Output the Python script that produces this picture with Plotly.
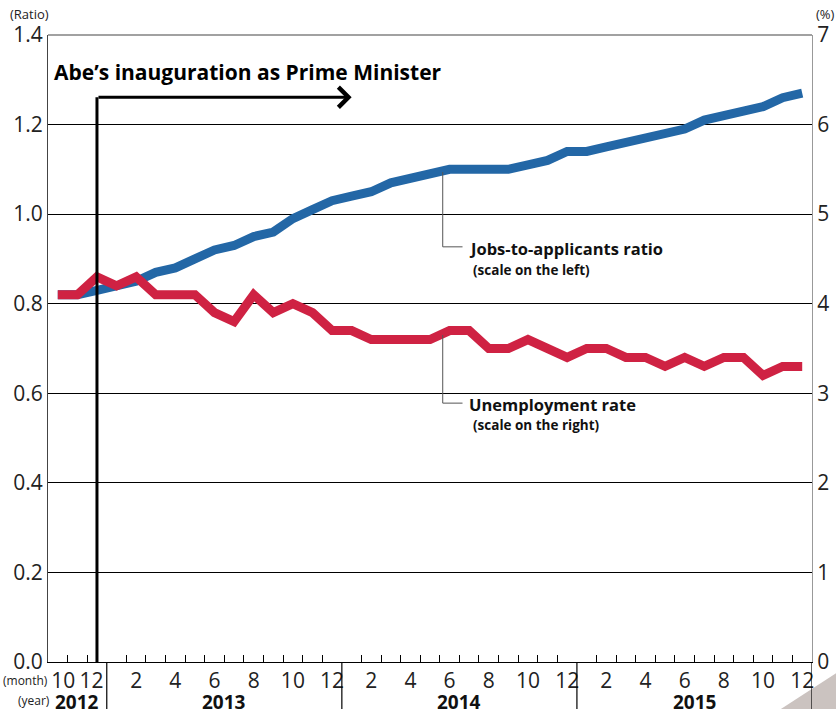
import plotly.graph_objects as go

# Months: Oct 2012 .. Dec 2015 (index 0..38)
month_numbers = [10, 11, 12] + list(range(1, 13)) * 3
jobs_ratio = [0.82, 0.82, 0.83,
              0.84, 0.85, 0.87, 0.88, 0.90, 0.92, 0.93, 0.95, 0.96, 0.99, 1.01, 1.03,
              1.04, 1.05, 1.07, 1.08, 1.09, 1.10, 1.10, 1.10, 1.10, 1.11, 1.12, 1.14,
              1.14, 1.15, 1.16, 1.17, 1.18, 1.19, 1.21, 1.22, 1.23, 1.24, 1.26, 1.27]
unemployment = [4.1, 4.1, 4.3,
                4.2, 4.3, 4.1, 4.1, 4.1, 3.9, 3.8, 4.1, 3.9, 4.0, 3.9, 3.7,
                3.7, 3.6, 3.6, 3.6, 3.6, 3.7, 3.7, 3.5, 3.5, 3.6, 3.5, 3.4,
                3.5, 3.5, 3.4, 3.4, 3.3, 3.4, 3.3, 3.4, 3.4, 3.2, 3.3, 3.3]
years = ["2012", "2013", "2014", "2015"]
year_spans = [(-0.5, 2.5), (2.5, 14.5), (14.5, 26.5), (26.5, 38.5)]
left_ticks = [0.0, 0.2, 0.4, 0.6, 0.8, 1.0, 1.2, 1.4]
right_ticks = [0, 1, 2, 3, 4, 5, 6, 7]

x = list(range(len(month_numbers)))
even_idx = [i for i, m in enumerate(month_numbers) if m % 2 == 0]
even_lbl = [str(month_numbers[i]) for i in even_idx]
# first two labels are squeezed right/left in the original (room for "(month)")
NB = "\u00a0"
even_lbl[0] = NB * 2 + even_lbl[0]
even_lbl[1] = even_lbl[1] + NB * 2
boundaries = [i + 0.5 for i in range(len(month_numbers) - 1)]
year_bounds = [s[1] for s in year_spans]
minor_ticks = [b for b in boundaries if b not in year_bounds]

BLUE = "#2367a6"
RED = "#cf2243"
FONT = "Open Sans, sans-serif"
BFONT = "Open Sans, sans-serif"

fig = go.Figure()
fig.add_trace(go.Scatter(x=x, y=jobs_ratio, mode="lines",
                         line=dict(color=BLUE, width=9), yaxis="y", showlegend=False))
fig.add_trace(go.Scatter(x=x, y=unemployment, mode="lines",
                         line=dict(color=RED, width=9), yaxis="y2", showlegend=False))

fig.update_layout(
    width=836, height=709,
    margin=dict(l=48, r=24, t=35, b=47, autoexpand=False),
    paper_bgcolor="white", plot_bgcolor="white",
    font=dict(family=FONT, color="#222"),
    xaxis=dict(range=[-0.5, 38.5], tickmode="array", tickvals=even_idx, ticktext=even_lbl,
               ticks="", tickangle=0, showgrid=False, zeroline=False, showline=True,
               linecolor="black", linewidth=1.2, automargin=False,
               tickfont=dict(size=21, family=FONT, color="#222"),
               minor=dict(tickmode="array", tickvals=minor_ticks, ticks="inside",
                          ticklen=7, tickcolor="black", tickwidth=1, showgrid=False)),
    yaxis=dict(range=[0, 1.4], tickmode="array", tickvals=left_ticks,
               ticktext=[f"{v:.1f}" for v in left_ticks], ticks="",
               showgrid=True, gridcolor="black", gridwidth=1, zeroline=False,
               showline=True, linecolor="#444", linewidth=1.2, automargin=False,
               tickfont=dict(size=21, family=FONT, color="#222")),
    yaxis2=dict(range=[0, 7], overlaying="y", side="right", tickmode="array",
                tickvals=right_ticks, ticktext=[str(v) for v in right_ticks], ticks="",
                showgrid=False, zeroline=False, showline=True, linecolor="#999",
                linewidth=1.2, automargin=False,
                tickfont=dict(size=21, family=FONT, color="#222")),
)

shapes = []
# top border
shapes.append(dict(type="line", xref="paper", yref="paper", x0=0, x1=1, y0=1, y1=1,
                   line=dict(color="#444", width=1.2)))
# year boundary lines
for b in year_bounds:
    shapes.append(dict(type="line", xref="x", yref="paper", x0=b, x1=b, y0=0, y1=-0.08,
                       line=dict(color="black", width=1.2)))
# Abe vertical line
shapes.append(dict(type="line", xref="x", yref="y", x0=2, x1=2, y0=0, y1=1.261,
                   line=dict(color="black", width=3)))
# leader lines
shapes.append(dict(type="path", xref="x", yref="y",
                   path="M 19.65,1.094 L 19.65,0.927 L 20.66,0.927",
                   line=dict(color="#555", width=1)))
shapes.append(dict(type="path", xref="x", yref="y",
                   path="M 19.65,0.730 L 19.65,0.578 L 20.66,0.578",
                   line=dict(color="#555", width=1)))
# page corner decoration
shapes.append(dict(type="path", xref="paper", yref="paper",
                   path="M 0.958,-0.076 L 1.032,-0.076 L 1.032,-0.0175 Z",
                   fillcolor="#cbc3c0", line=dict(width=0), layer="below"))
fig.update_layout(shapes=shapes)

ann = []
ann.append(dict(x=15, y=1.261, ax=2, ay=1.261, axref="x", ayref="y", xref="x", yref="y",
                text="", showarrow=True, arrowhead=4, arrowsize=1.3, arrowwidth=3,
                arrowcolor="black"))
ann.append(dict(x=-0.31, y=1.317, xref="x", yref="y", xanchor="left", yanchor="middle",
                text="<b>Abe’s inauguration as Prime Minister</b>", showarrow=False,
                font=dict(family=BFONT, size=21, color="black")))
ann.append(dict(x=20.87, y=0.924, xref="x", yref="y", xanchor="left", yanchor="middle",
                text="<b>Jobs-to-applicants ratio</b>", showarrow=False,
                font=dict(family=BFONT, size=16.5, color="#111")))
ann.append(dict(x=21.07, y=0.875, xref="x", yref="y", xanchor="left", yanchor="middle",
                text="<b>(scale on the left)</b>", showarrow=False,
                font=dict(family=BFONT, size=13.5, color="#111")))
ann.append(dict(x=20.87, y=0.576, xref="x", yref="y", xanchor="left", yanchor="middle",
                text="<b>Unemployment rate</b>", showarrow=False,
                font=dict(family=BFONT, size=16.5, color="#111")))
ann.append(dict(x=21.07, y=0.529, xref="x", yref="y", xanchor="left", yanchor="middle",
                text="<b>(scale on the right)</b>", showarrow=False,
                font=dict(family=BFONT, size=13.5, color="#111")))
for yr, (a, b) in zip(years, year_spans):
    ann.append(dict(x=(a + b) / 2, y=-0.063, xref="x", yref="paper", xanchor="center",
                    yanchor="middle", text=f"<b>{yr}</b>", showarrow=False,
                    font=dict(family=BFONT, size=19, color="#111")))
ann.append(dict(x=0.003, y=-0.029, xref="paper", yref="paper", xanchor="right",
                yanchor="middle", text="(month)", showarrow=False,
                font=dict(family=FONT, size=12, color="#222")))
ann.append(dict(x=0.005, y=-0.061, xref="paper", yref="paper", xanchor="right",
                yanchor="middle", text="(year)", showarrow=False,
                font=dict(family=FONT, size=12, color="#222")))
ann.append(dict(x=-0.052, y=1.033, xref="paper", yref="paper", xanchor="left",
                yanchor="middle", text="(Ratio)", showarrow=False,
                font=dict(family=FONT, size=13, color="#222")))
ann.append(dict(x=1.003, y=1.033, xref="paper", yref="paper", xanchor="left",
                yanchor="middle", text="(%)", showarrow=False,
                font=dict(family=FONT, size=13, color="#222")))
fig.update_layout(annotations=ann)

fig.write_html("out.html", config={"displayModeBar": False},
               post_script="document.body.style.margin='0px';"
               "document.body.style.overflow='hidden';")
